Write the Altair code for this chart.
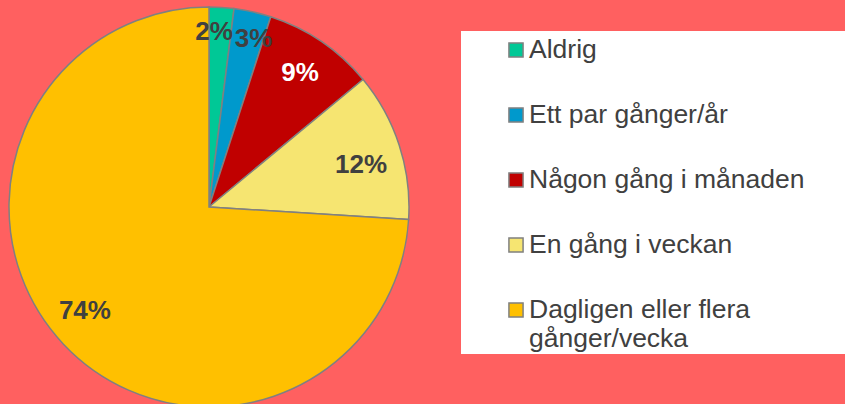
import altair as alt
import pandas as pd

categories = ["Aldrig", "Ett par gånger/år", "Någon gång i månaden",
              "En gång i veckan", "Dagligen eller flera gånger/vecka"]
legend_labels = ["Aldrig", "Ett par gånger/år", "Någon gång i månaden",
                 "En gång i veckan", "Dagligen eller flera\ngånger/vecka"]
values = [2, 3, 9, 12, 74]
pct_labels = ["2%", "3%", "9%", "12%", "74%"]
colors = ["#00C896", "#0099CC", "#C00000", "#F6E571", "#FFC000"]

df = pd.DataFrame({
    "cat": categories,
    "legend": legend_labels,
    "value": values,
    "label": pct_labels,
    "idx": list(range(len(categories))),
})

color_scale = alt.Scale(domain=categories, range=colors)
base = alt.Chart(df)

pie = base.mark_arc(stroke="#808080", strokeWidth=1.5).encode(
    theta=alt.Theta("value:Q", stack=True),
    order=alt.Order("idx:Q"),
    color=alt.Color("cat:N", scale=color_scale, legend=None),
    x=alt.value(209), y=alt.value(207), radius=alt.value(200),
)

label_color = alt.condition(alt.datum.cat == "Någon gång i månaden",
                            alt.value("#FFFFFF"), alt.value("#404040"))


def label_layer(i, radius, dx=0, dy=0):
    return base.mark_text(radius=radius, dx=dx, dy=dy, fontSize=26,
                          fontWeight="bold", font="Liberation Sans").encode(
        theta=alt.Theta("value:Q", stack=True),
        order=alt.Order("idx:Q"),
        text="label:N",
        color=label_color,
        x=alt.value(209), y=alt.value(207),
        opacity=alt.condition(f"datum.idx == {i}", alt.value(1), alt.value(0)),
    )


label_layers = [
    label_layer(0, 175, dx=-6),
    label_layer(1, 172, dx=7),
    label_layer(2, 162),
    label_layer(3, 162, dx=-2, dy=8),
    label_layer(4, 162, dx=-6, dy=-7),
]

legend_box = base.transform_filter("datum.idx == 0").mark_rect(
    fill="#FFFFFF").encode(
    x=alt.value(461), x2=alt.value(845), y=alt.value(31), y2=alt.value(354))

yscale = alt.Scale(type="point", domain=categories, range=[50, 310], padding=0)

squares = base.mark_square(size=200, stroke="#808080", strokeWidth=1.5,
                           opacity=1).encode(
    x=alt.value(516),
    y=alt.Y("cat:N", scale=yscale, axis=None),
    fill=alt.Fill("cat:N", scale=color_scale, legend=None),
)

texts = base.mark_text(align="left", baseline="middle", fontSize=26.5,
                       font="Liberation Sans", color="#404040",
                       lineBreak="\n", lineHeight=29).encode(
    x=alt.value(529),
    y=alt.Y("cat:N", scale=yscale, axis=None),
    text="legend:N",
)

chart = alt.layer(pie, *label_layers, legend_box, squares, texts).properties(
    width=845, height=404, background="#FF6060", padding=0,
    autosize=alt.AutoSizeParams(type="none"),
).configure_view(stroke=None)

chart.save("out.html", embed_options={"renderer": "svg", "actions": False})
